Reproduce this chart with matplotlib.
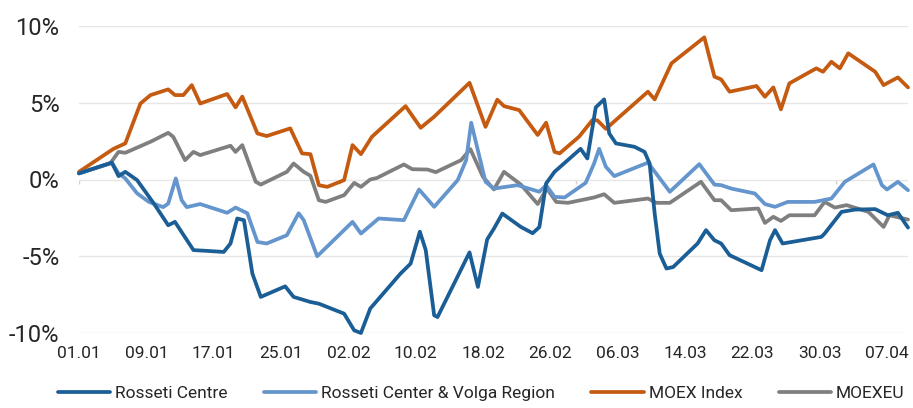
import matplotlib
matplotlib.use('Agg')
import matplotlib.pyplot as plt
import numpy as np

plt.rcParams['font.family'] = ['Liberation Sans Narrow', 'Roboto', 'DejaVu Sans']

# ── data (day offsets from 01.01.2021, cumulative change in %) ────────────────
tick_days = [0, 8, 16, 24, 32, 40, 48, 56, 64, 72, 80, 88, 96]
tick_labels = ['01.01', '09.01', '17.01', '25.01', '02.02', '10.02', '18.02',
               '26.02', '06.03', '14.03', '22.03', '30.03', '07.04']
month_start_days = [0, 31, 59, 90]

rc_days = [0, 3.9, 4.7, 5.5, 6.9, 8.9, 10.6, 11.4, 13.6, 15.2, 17.2, 18.0, 18.8,
           19.6, 20.6, 21.6, 24.5, 25.5, 27.5, 28.5, 31.5, 32.7, 33.5, 34.6, 38.2,
           39.4, 40.5, 41.2, 42.2, 42.6, 46.4, 47.4, 48.5, 49.3, 50.3, 52.5, 53.9,
           54.7, 55.5, 56.5, 59.6, 60.4, 61.4, 62.4, 63.0, 63.8, 66.0, 67.2, 67.8,
           68.4, 69.0, 69.8, 70.6, 73.5, 74.5, 75.5, 76.3, 77.3, 81.1, 82.1, 82.7,
           83.6, 88.2, 88.6, 90.6, 92.2, 94.6, 96.1, 97.3, 98.5]
rc_vals = [0.4, 1.1, 0.22, 0.5, -0.04, -1.57, -2.98, -2.76, -4.6, -4.65, -4.72, -4.17, -2.54,
           -2.65, -6.13, -7.65, -6.96, -7.65, -7.98, -8.09, -8.74, -9.83, -10.0, -8.41, -6.13,
           -5.48, -3.4, -4.6, -8.85, -8.96, -4.75, -7.0, -3.9, -3.2, -2.22, -3.09, -3.5,
           -3.1, -0.26, 0.5, 2.0, 1.37, 4.7, 5.22, 3.0, 2.35, 2.13, 1.8, 1.04,
           -2.22, -4.83, -5.8, -5.7, -4.17, -3.3, -3.96, -4.17, -4.93, -5.91, -3.96, -3.3,
           -4.17, -3.74, -3.52, -2.11, -1.96, -1.93, -2.33, -2.17, -3.13]

rcv_days = [0, 3.9, 4.7, 5.5, 6.9, 8.3, 10.0, 10.6, 11.5, 12.2, 12.8, 14.4, 17.6,
            18.6, 20.0, 21.2, 22.3, 24.7, 26.1, 26.7, 28.3, 32.5, 33.5, 35.6, 38.6,
            40.4, 42.2, 45.0, 46.0, 46.6, 47.1, 48.3, 49.3, 52.1, 54.7, 55.5, 56.5,
            57.7, 60.2, 61.2, 61.8, 62.6, 63.6, 67.6, 70.2, 73.7, 75.5, 76.3, 77.5,
            80.3, 81.5, 82.7, 84.2, 87.4, 89.4, 91.0, 94.4, 95.4, 96.0, 97.3, 98.5]
rcv_vals = [0.4, 1.1, 0.4, 0.07, -0.9, -1.46, -1.8, -1.57, 0.07, -1.35, -1.8, -1.6, -2.17,
            -1.83, -2.2, -4.07, -4.17, -3.63, -2.2, -2.65, -5.0, -2.76, -3.52, -2.54, -2.65,
            -0.65, -1.78, -0.04, 1.26, 3.7, 2.57, -0.15, -0.59, -0.37, -0.8, -0.37, -1.13,
            -1.17, -0.22, 1.04, 2.0, 0.83, 0.22, 1.1, -0.8, 1.0, -0.33, -0.37, -0.59,
            -0.91, -1.6, -1.78, -1.46, -1.46, -1.24, -0.15, 0.98, -0.37, -0.65, -0.15, -0.7]

moex_days = [0, 4.1, 5.5, 7.3, 8.5, 10.6, 11.4, 12.4, 13.4, 14.4, 17.6, 18.6, 19.4,
             21.2, 22.3, 25.1, 26.5, 27.5, 28.5, 29.5, 31.5, 32.5, 33.5, 34.8, 38.8,
             40.6, 42.2, 46.4, 48.3, 49.7, 50.5, 52.3, 54.5, 55.5, 56.5, 57.1, 59.4,
             61.0, 61.6, 62.6, 67.6, 68.4, 70.4, 74.3, 75.5, 76.3, 77.3, 80.5, 81.5,
             82.5, 83.4, 84.4, 87.6, 88.4, 89.4, 90.4, 91.4, 94.6, 95.6, 97.3, 98.5]
moex_vals = [0.5, 2.0, 2.35, 4.95, 5.5, 5.87, 5.5, 5.5, 6.15, 4.95, 5.57, 4.7, 5.4,
             3.0, 2.83, 3.33, 1.7, 1.65, -0.37, -0.48, -0.04, 2.24, 1.65, 2.78, 4.78,
             3.37, 4.09, 6.3, 3.43, 5.2, 4.78, 4.52, 2.9, 3.7, 1.8, 1.7, 2.78,
             3.87, 3.85, 3.3, 5.72, 5.22, 7.57, 9.26, 6.7, 6.52, 5.72, 6.09, 5.39,
             6.0, 4.57, 6.26, 7.24, 7.02, 7.67, 7.24, 8.22, 7.02, 6.15, 6.65, 6.0]

meu_days = [0, 3.7, 4.7, 5.5, 8.5, 10.6, 11.2, 12.6, 13.6, 14.4, 18.0, 18.6, 19.4,
            21.0, 21.6, 24.7, 25.5, 26.7, 27.5, 28.5, 29.3, 31.5, 32.7, 33.5, 34.6,
            35.4, 38.6, 39.6, 41.4, 42.4, 45.4, 46.5, 48.0, 49.3, 50.5, 52.5, 54.5,
            55.6, 56.7, 58.1, 61.2, 62.4, 63.6, 67.6, 68.6, 70.2, 73.9, 75.5, 76.3,
            77.5, 80.7, 81.5, 82.5, 83.4, 84.4, 87.4, 88.6, 89.8, 91.2, 93.8, 95.6,
            96.3, 98.5]
meu_vals = [0.4, 1.04, 1.8, 1.74, 2.46, 3.04, 2.78, 1.26, 1.8, 1.59, 2.2, 1.8, 2.24,
            -0.15, -0.33, 0.5, 1.04, 0.5, 0.24, -1.35, -1.46, -1.02, -0.22, -0.48, 0.0,
            0.1, 0.98, 0.67, 0.65, 0.48, 1.26, 1.98, 0.17, -0.65, 0.5, -0.33, -1.6,
            -0.59, -1.46, -1.52, -1.17, -0.96, -1.52, -1.24, -1.52, -1.52, -0.15, -1.35, -1.35,
            -2.0, -1.89, -2.83, -2.43, -2.7, -2.33, -2.33, -1.46, -1.83, -1.67, -2.11, -3.09,
            -2.33, -2.61]

series = [
    ('Rosseti Centre', rc_days, rc_vals, '#1B5E96'),
    ('Rosseti Center & Volga Region', rcv_days, rcv_vals, '#6495CD'),
    ('MOEX Index', moex_days, moex_vals, '#C55A11'),
    ('MOEXEU', meu_days, meu_vals, '#7F7F7F'),
]
zorders = [6, 5, 4, 3]

# ── figure ────────────────────────────────────────────────────────────────────
fig = plt.figure(figsize=(9.13, 4.08), dpi=100)
ax = fig.add_axes([79 / 913, 1 - 333 / 408, (908 - 79) / 913, (333 - 26) / 408])

for (name, d, v, color), z in zip(series, zorders):
    ax.plot(d, v, color=color, lw=2.7, label=name, zorder=z,
            solid_joinstyle='round', solid_capstyle='round', clip_on=False)

ax.set_xlim(0, 98.5)
ax.set_ylim(-10, 10)
ax.set_yticks([-10, -5, 0, 5, 10])
ax.set_yticklabels(['-10%', '-5%', '0%', '5%', '10%'], fontsize=17, color='#262626')
ax.set_xticks(tick_days)
ax.set_xticklabels(tick_labels, fontsize=12.5, color='#262626')
ax.tick_params(axis='y', length=0, pad=14)
ax.tick_params(axis='x', length=0, pad=9)
ax.grid(axis='y', color='#E6E6E6', lw=1.0, zorder=0)
for s in ax.spines.values():
    s.set_visible(False)

# small month ticks hanging from the zero line
ax.vlines(month_start_days, -0.28, 0, color='#D0D0D0', lw=1.0, zorder=1)

fig.legend(loc='center', bbox_to_anchor=(0.527, 1 - 393 / 408), ncol=4, frameon=False,
           fontsize=12.5, handlelength=3.0, columnspacing=2.1, handletextpad=0.3,
           labelcolor='#262626')

fig.savefig('out.png', dpi=100)
